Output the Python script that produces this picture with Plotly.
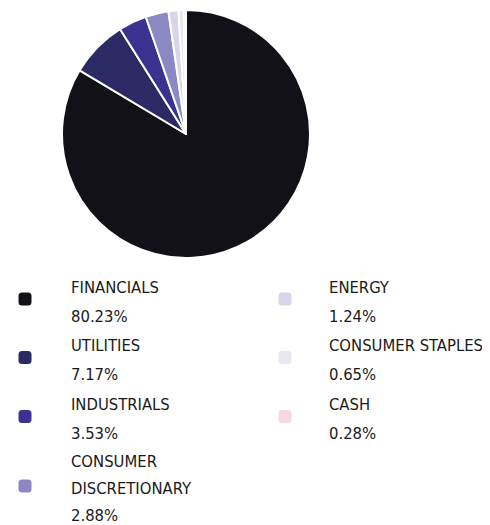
import plotly.graph_objects as go

sectors = ["FINANCIALS", "UTILITIES", "INDUSTRIALS", "CONSUMER DISCRETIONARY",
           "ENERGY", "CONSUMER STAPLES", "CASH"]
legend_names = ["FINANCIALS", "UTILITIES", "INDUSTRIALS", "CONSUMER<br>DISCRETIONARY",
                "ENERGY", "CONSUMER STAPLES", "CASH"]
weights = [80.23, 7.17, 3.53, 2.88, 1.24, 0.65, 0.28]
colors = ["#121118", "#2b2a64", "#3a3190", "#8b88c4", "#d6d5ea", "#e8e7f0", "#f8d7e2"]

# page has an 8px body margin; figure is sized to fit the window
OFF = 8
W, H = 490 - OFF, 525 - OFF
FONT = "DejaVu Sans Condensed, Liberation Sans Narrow, sans-serif"
FS = 16.5

def px(xpx):
    return (xpx - OFF) / W

def py(ypx):
    return 1 - (ypx - OFF) / H

fig = go.Figure()
fig.add_trace(go.Pie(
    labels=sectors, values=weights, sort=False, direction="clockwise", rotation=0,
    marker=dict(colors=colors, line=dict(color="white", width=2)),
    textinfo="none", hoverinfo="label+percent", showlegend=False,
    domain=dict(x=[px(62), px(310)], y=[py(258), py(10)]),
))

# legend layout (pixel positions in the window)
cols = [(25, 70), (25, 70), (25, 70), (25, 70), (285, 328), (285, 328), (285, 328)]
name_y = [287, 345.5, 404.5, 461, 287, 345.5, 404.5]
line_gaps = [29, 29, 29, 27.5, 29, 29, 29]
annotations = []
shapes = []
for i, (nm, w, c) in enumerate(zip(legend_names, weights, colors)):
    mx, tx = cols[i]
    ny = name_y[i]
    gap = line_gaps[i]
    nlines = nm.count("<br>") + 1
    pct_y = ny + gap * nlines
    marker_y = ny + 12 if nlines == 1 else ny + 25
    for j, part in enumerate(nm.split("<br>")):
        annotations.append(dict(x=px(tx), y=py(ny + j * gap), xref="paper", yref="paper",
                                text=part, showarrow=False, xanchor="left", yanchor="middle",
                                xshift=-1,
                                font=dict(family=FONT, size=FS, color="#1a1a1a")))
    annotations.append(dict(x=px(tx), y=py(pct_y), xref="paper", yref="paper",
                            text=f"{w:.2f}%", showarrow=False, xanchor="left", yanchor="middle",
                            xshift=-1,
                            font=dict(family=FONT, size=FS, color="#1a1a1a")))
    s = 6.5
    r = 3.5
    x0, x1 = px(mx - s), px(mx + s)
    y0, y1 = py(marker_y + s), py(marker_y - s)
    rx, ry = r / W, r / H
    path = (f"M {x0+rx},{y0} L {x1-rx},{y0} Q {x1},{y0} {x1},{y0+ry} "
            f"L {x1},{y1-ry} Q {x1},{y1} {x1-rx},{y1} L {x0+rx},{y1} "
            f"Q {x0},{y1} {x0},{y1-ry} L {x0},{y0+ry} Q {x0},{y0} {x0+rx},{y0} Z")
    shapes.append(dict(type="path", path=path, xref="paper", yref="paper",
                       fillcolor=c, line=dict(width=0)))

fig.update_layout(
    width=W, height=H, margin=dict(l=0, r=0, t=0, b=0),
    paper_bgcolor="white", plot_bgcolor="white",
    annotations=annotations, shapes=shapes,
)
fig.write_html("out.html")
